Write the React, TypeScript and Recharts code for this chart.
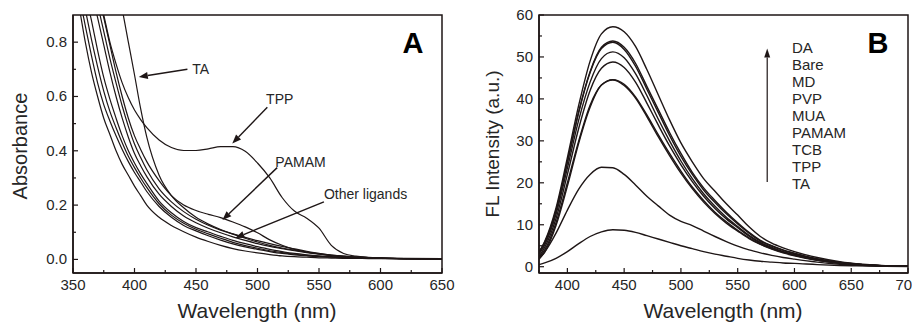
import { LineChart, Line, XAxis, YAxis, ReferenceArea, ReferenceLine, ReferenceDot } from 'recharts'

const INK = '#1e1616'
const TEXT = '#262626'
const FONT = '"Liberation Sans", Arial, Helvetica, sans-serif'

// ---- panel A: absorbance spectra ----
const wlA = [350, 355, 360, 365, 370, 375, 380, 385, 390, 395, 400, 405, 410, 420, 430, 440, 450, 460, 470, 480, 490, 500, 510, 520, 530, 540, 550, 560, 570, 580, 590, 600, 620, 650]
const absDA = [1.05, 0.93, 0.80, 0.69, 0.60, 0.52, 0.46, 0.40, 0.35, 0.31, 0.27, 0.235, 0.20, 0.155, 0.125, 0.102, 0.082, 0.066, 0.052, 0.040, 0.031, 0.024, 0.018, 0.013, 0.010, 0.008, 0.006, 0.005, 0.004, 0.004, 0.003, 0.003, 0.002, 0.002]
const absBare = [1.15, 0.98, 0.86, 0.75, 0.65, 0.57, 0.51, 0.455, 0.405, 0.36, 0.32, 0.285, 0.25, 0.195, 0.155, 0.125, 0.105, 0.087, 0.071, 0.057, 0.046, 0.037, 0.029, 0.022, 0.017, 0.013, 0.010, 0.008, 0.006, 0.005, 0.004, 0.004, 0.003, 0.002]
const absMD = [1.2, 1.04, 0.92, 0.81, 0.71, 0.62, 0.545, 0.485, 0.43, 0.38, 0.338, 0.30, 0.265, 0.205, 0.163, 0.133, 0.111, 0.094, 0.078, 0.063, 0.051, 0.041, 0.032, 0.025, 0.019, 0.015, 0.011, 0.009, 0.007, 0.005, 0.004, 0.004, 0.003, 0.002]
const absPVP = [1.25, 1.10, 0.98, 0.88, 0.77, 0.67, 0.59, 0.52, 0.455, 0.40, 0.355, 0.315, 0.28, 0.215, 0.172, 0.14, 0.117, 0.101, 0.085, 0.07, 0.058, 0.047, 0.037, 0.029, 0.022, 0.017, 0.013, 0.010, 0.008, 0.006, 0.005, 0.004, 0.003, 0.002]
const absMUA = [1.35, 1.22, 1.10, 0.99, 0.89, 0.79, 0.69, 0.60, 0.52, 0.45, 0.39, 0.345, 0.305, 0.24, 0.195, 0.16, 0.135, 0.115, 0.098, 0.083, 0.07, 0.058, 0.048, 0.04, 0.032, 0.025, 0.019, 0.014, 0.010, 0.008, 0.006, 0.005, 0.003, 0.002]
const absTCB = [1.4, 1.28, 1.16, 1.05, 0.94, 0.84, 0.74, 0.65, 0.565, 0.49, 0.425, 0.375, 0.33, 0.26, 0.212, 0.176, 0.148, 0.126, 0.108, 0.094, 0.081, 0.069, 0.058, 0.048, 0.039, 0.030, 0.022, 0.016, 0.012, 0.009, 0.007, 0.005, 0.003, 0.002]
const absPAMAM = [1.45, 1.34, 1.22, 1.10, 0.99, 0.89, 0.79, 0.69, 0.60, 0.52, 0.455, 0.405, 0.36, 0.29, 0.235, 0.20, 0.18, 0.166, 0.154, 0.138, 0.12, 0.098, 0.072, 0.052, 0.037, 0.027, 0.020, 0.014, 0.010, 0.008, 0.006, 0.005, 0.003, 0.002]
const absTPP = [1.6, 1.42, 1.26, 1.12, 1.0, 0.9, 0.8, 0.72, 0.65, 0.595, 0.55, 0.515, 0.485, 0.44, 0.412, 0.401, 0.401, 0.407, 0.415, 0.415, 0.398, 0.355, 0.30, 0.228, 0.178, 0.152, 0.115, 0.052, 0.022, 0.012, 0.008, 0.006, 0.004, 0.003]
const absTA = [2.0, 1.8, 1.6, 1.45, 1.3, 1.18, 1.08, 1.02, 0.92, 0.80, 0.68, 0.555, 0.45, 0.31, 0.235, 0.19, 0.155, 0.13, 0.11, 0.093, 0.078, 0.064, 0.052, 0.042, 0.034, 0.027, 0.021, 0.016, 0.012, 0.009, 0.007, 0.005, 0.003, 0.002]

// ---- panel B: emission spectra ----
const wlB = [375, 380, 390, 400, 410, 420, 430, 440, 450, 460, 470, 480, 490, 500, 510, 520, 530, 540, 550, 560, 570, 580, 590, 600, 620, 640, 660, 680, 700]
const flDA = [3.5, 6, 14, 26, 38.5, 49, 55.5, 57.2, 56, 52.5, 47, 41, 35, 29.5, 25, 21, 18, 15, 12.3, 9.5, 7.2, 5.6, 4.5, 3.6, 2.2, 1.2, 0.6, 0.25, 0.1]
const flBare = [3.5, 5.8, 13.5, 25, 37, 46.5, 52.3, 53.8, 52.3, 48.5, 43, 37.5, 32, 27, 22.5, 18.8, 15.8, 13, 10.5, 8.2, 6.3, 5, 4, 3.2, 1.9, 1.0, 0.5, 0.2, 0.1]
const flMD = [3.3, 5.6, 13.2, 24.8, 36.8, 46.3, 52, 53.5, 51.8, 47.8, 42.3, 36.8, 31.3, 26.3, 22, 18.3, 15.3, 12.6, 10.2, 8, 6.1, 4.9, 3.9, 3.1, 1.8, 1, 0.5, 0.2, 0.1]
const flPVP = [3, 5.2, 12.5, 23.5, 35, 44, 49.6, 51.2, 49.8, 46, 40.8, 35.2, 30, 25.2, 21, 17.4, 14.4, 11.8, 9.6, 7.5, 5.8, 4.6, 3.6, 2.9, 1.7, 0.9, 0.45, 0.2, 0.1]
const flMUA = [2.5, 4.6, 11.5, 22, 33, 42, 47.3, 48.8, 47.5, 44, 39, 33.8, 28.8, 24.3, 20.3, 16.8, 13.9, 11.4, 9.3, 7.3, 5.6, 4.4, 3.5, 2.8, 1.6, 0.9, 0.45, 0.2, 0.1]
const flPAMAM = [2.2, 4, 10.5, 20, 30, 38.5, 43.3, 44.6, 43.5, 40.5, 36.2, 31.5, 27, 22.8, 19, 15.8, 13, 10.7, 8.7, 6.9, 5.4, 4.3, 3.4, 2.7, 1.6, 0.9, 0.45, 0.2, 0.1]
const flTCB = [1.8, 3.5, 9.8, 19.2, 29.5, 38, 43.3, 44.5, 43.2, 40.2, 35.8, 31, 26.5, 22.3, 18.6, 15.4, 12.7, 10.4, 8.5, 6.7, 5.3, 4.2, 3.3, 2.6, 1.5, 0.8, 0.4, 0.2, 0.1]
const flTPP = [2, 3.5, 8, 13.5, 18.5, 22, 23.7, 23.6, 22, 19.5, 16.8, 14.5, 12.3, 10.8, 9.8, 8.5, 7.2, 6, 4.9, 4, 3.3, 2.7, 2.2, 1.8, 1.1, 0.6, 0.3, 0.15, 0.1]
const flTA = [0.5, 0.9, 2, 3.6, 5.5, 7.2, 8.3, 8.8, 8.7, 8.2, 7.4, 6.6, 5.8, 5, 4.3, 3.6, 3, 2.5, 2.0, 1.6, 1.3, 1.1, 0.9, 0.8, 0.5, 0.3, 0.2, 0.1, 0.05]

// ligand order as listed in panel B (strongest first)
const ligands = ['DA', 'Bare', 'MD', 'PVP', 'MUA', 'PAMAM', 'TCB', 'TPP', 'TA']
const absByLigand: Record<string, number[]> = { DA: absDA, Bare: absBare, MD: absMD, PVP: absPVP, MUA: absMUA, PAMAM: absPAMAM, TCB: absTCB, TPP: absTPP, TA: absTA }
const flByLigand: Record<string, number[]> = { DA: flDA, Bare: flBare, MD: flMD, PVP: flPVP, MUA: flMUA, PAMAM: flPAMAM, TCB: flTCB, TPP: flTPP, TA: flTA }

const ticksAx = [350, 375, 400, 425, 450, 475, 500, 525, 550, 575, 600, 625, 650]
const ticksAy = [0, 0.1, 0.2, 0.3, 0.4, 0.5, 0.6, 0.7, 0.8]
const ticksBx = [375, 400, 425, 450, 475, 500, 525, 550, 575, 600, 625, 650, 675, 700]
const ticksBy = [0, 5, 10, 15, 20, 25, 30, 35, 40, 45, 50, 55, 60]

// annotation callouts in panel A (data coords)
const notesA = [
  { text: 'TA', at: [447, 0.70], from: [443, 0.70], to: [403.5, 0.672] },
  { text: 'TPP', at: [507, 0.59], from: [508, 0.56], to: [479.5, 0.427] },
  { text: 'PAMAM', at: [514.5, 0.36], from: [516, 0.338], to: [471.5, 0.145] },
  { text: 'Other ligands', at: [554, 0.241], from: [554, 0.212], to: [482, 0.079] },
]

const dataA = wlA.map((w, i) => {
  const row: any = { w }
  ligands.forEach((l) => { row[l] = absByLigand[l][i] })
  return row
})
const dataB = wlB.map((w, i) => {
  const row: any = { w }
  ligands.forEach((l) => { row[l] = flByLigand[l][i] })
  return row
})

const BottomTick = ({ x, y, payload, step }: any) => {
  const major = Math.round(payload.value) % step === 0
  return (
    <g>
      <line x1={x} x2={x} y1={y} y2={y - (major ? 5 : 3)} stroke={INK} strokeWidth={1.2} />
      {major && (
        <text x={x} y={y + 17} textAnchor="middle" fontSize={15} fill={TEXT} fontFamily={FONT}>
          {payload.value}
        </text>
      )}
    </g>
  )
}

const LeftTick = ({ x, y, payload, isMajor, fmt }: any) => {
  const major = isMajor(payload.value)
  return (
    <g>
      <line x1={x} x2={x + (major ? 5 : 3)} y1={y} y2={y} stroke={INK} strokeWidth={1.2} />
      {major && (
        <text x={x - 6} y={y + 5} textAnchor="end" fontSize={15} fill={TEXT} fontFamily={FONT}>
          {fmt(payload.value)}
        </text>
      )}
    </g>
  )
}

const arrowShape = (head: number, half: number, width: number) => (p: any) => {
  const { x1, y1, x2, y2 } = p
  const dx = x2 - x1
  const dy = y2 - y1
  const len = Math.hypot(dx, dy) || 1
  const ux = dx / len
  const uy = dy / len
  const bx = x2 - ux * head
  const by = y2 - uy * head
  return (
    <g>
      <line x1={x1} y1={y1} x2={bx} y2={by} stroke={INK} strokeWidth={width} />
      <polygon points={`${x2},${y2} ${bx - uy * half},${by + ux * half} ${bx + uy * half},${by - ux * half}`} fill={INK} />
    </g>
  )
}

const labelStyle: React.CSSProperties = { position: 'absolute', fontFamily: FONT, color: TEXT, whiteSpace: 'nowrap', lineHeight: 1 }

export default function App() {
  return (
    <div style={{ position: 'fixed', left: 0, top: 0, width: 912, height: 324, overflow: 'hidden', background: '#fff' }}>
      <div style={{ position: 'absolute', left: 0, top: 0 }}>
        <LineChart width={460} height={324} data={dataA} margin={{ top: 15, right: 18, bottom: 21, left: 0 }}>
          <XAxis
            dataKey="w" type="number" domain={[350, 650]} ticks={ticksAx} interval={0}
            allowDataOverflow height={30} tickSize={0} tickMargin={0} tickLine={false}
            axisLine={{ stroke: INK, strokeWidth: 1.5 }}
            tick={<BottomTick step={50} />}
          />
          <YAxis
            type="number" domain={[-0.05, 0.9]} ticks={ticksAy} interval={0}
            allowDataOverflow width={73} tickSize={0} tickMargin={0} tickLine={false}
            axisLine={{ stroke: INK, strokeWidth: 1.5 }}
            tick={<LeftTick isMajor={(v: number) => Math.round(v * 10) % 2 === 0} fmt={(v: number) => v.toFixed(1)} />}
          />
          <ReferenceArea x1={350} x2={650} y1={-0.05} y2={0.9} fill="none" stroke={INK} strokeWidth={1.5} ifOverflow="visible" />
          {ligands.map((l) => (
            <Line key={l} dataKey={l} type="monotone" stroke={INK} strokeWidth={1.2} dot={false} isAnimationActive={false} />
          ))}
          {notesA.map((n) => (
            <ReferenceLine
              key={'a' + n.text}
              segment={[{ x: n.from[0], y: n.from[1] }, { x: n.to[0], y: n.to[1] }]}
              shape={arrowShape(9, 3.5, 1.4)}
            />
          ))}
          {notesA.map((n) => (
            <ReferenceDot
              key={'t' + n.text}
              x={n.at[0]} y={n.at[1]}
              shape={(p: any) => (
                <text x={p.cx} y={p.cy + 5} fontSize={14} fill={TEXT} fontFamily={FONT}>{n.text}</text>
              )}
            />
          ))}
        </LineChart>
      </div>

      <div style={{ position: 'absolute', left: 460, top: 0 }}>
        <LineChart width={470} height={324} data={dataB} margin={{ top: 15, right: 22, bottom: 21, left: 0 }}>
          <XAxis
            dataKey="w" type="number" domain={[375, 700]} ticks={ticksBx} interval={0}
            allowDataOverflow height={30} tickSize={0} tickMargin={0} tickLine={false}
            axisLine={{ stroke: INK, strokeWidth: 1.5 }}
            tick={<BottomTick step={50} />}
          />
          <YAxis
            type="number" domain={[-1.5, 60]} ticks={ticksBy} interval={0}
            allowDataOverflow width={79} tickSize={0} tickMargin={0} tickLine={false}
            axisLine={{ stroke: INK, strokeWidth: 1.5 }}
            tick={<LeftTick isMajor={(v: number) => v % 10 === 0} fmt={(v: number) => String(v)} />}
          />
          <ReferenceArea x1={375} x2={700} y1={-1.5} y2={60} fill="none" stroke={INK} strokeWidth={1.5} ifOverflow="visible" />
          {ligands.map((l) => (
            <Line key={l} dataKey={l} type="monotone" stroke={INK} strokeWidth={1.4} dot={false} isAnimationActive={false} />
          ))}
          <ReferenceLine segment={[{ x: 576, y: 20.2 }, { x: 576, y: 52 }]} shape={arrowShape(9, 3, 1.2)} />
        </LineChart>
      </div>

      {/* axis titles */}
      <div style={{ ...labelStyle, left: 20, top: 146, fontSize: 20, transform: 'translate(-50%, -50%) rotate(-90deg)' }}>Absorbance</div>
      <div style={{ ...labelStyle, left: 257, top: 310, fontSize: 21, transform: 'translate(-50%, -50%)' }}>Wavelength (nm)</div>
      <div style={{ ...labelStyle, left: 492, top: 144, fontSize: 19, transform: 'translate(-50%, -50%) rotate(-90deg)' }}>FL Intensity (a.u.)</div>
      <div style={{ ...labelStyle, left: 723, top: 310, fontSize: 21, transform: 'translate(-50%, -50%)' }}>Wavelength (nm)</div>

      {/* panel letters */}
      <div style={{ ...labelStyle, left: 413, top: 43, fontSize: 29, fontWeight: 'bold', color: '#000', transform: 'translate(-50%, -50%)' }}>A</div>
      <div style={{ ...labelStyle, left: 878, top: 43, fontSize: 29, fontWeight: 'bold', color: '#000', transform: 'translate(-50%, -50%)' }}>B</div>

      {/* ligand list in panel B */}
      <div style={{ ...labelStyle, left: 792, top: 39, fontSize: 15, lineHeight: '17px' }}>
        {ligands.map((l) => <div key={l}>{l}</div>)}
      </div>
    </div>
  )
}
